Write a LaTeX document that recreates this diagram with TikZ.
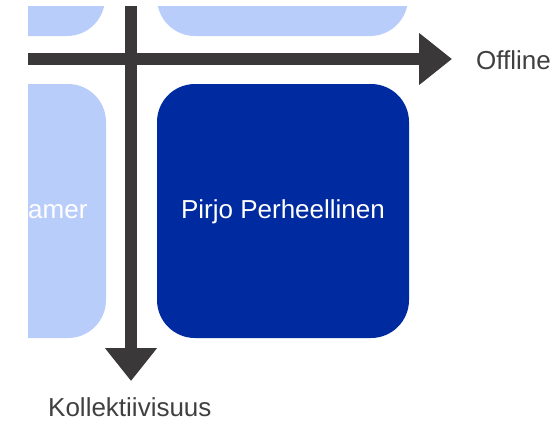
\documentclass[tikz,border=0pt]{standalone}
\usepackage{fontspec}
\setmainfont{Liberation Sans}
\usetikzlibrary{arrows.meta}
\definecolor{lightbox}{RGB}{185,205,251}
\definecolor{darkbox}{RGB}{0,42,159}
\definecolor{axisgray}{RGB}{58,56,56}
\definecolor{labelgray}{RGB}{64,64,64}
\begin{document}
\begin{tikzpicture}[x=1pt,y=1pt,
  segment/.style={rounded corners=38pt, inner sep=0pt, outer sep=0pt},
  axisline/.style={draw=axisgray, line width=12pt,
    -{Triangle[width=50pt,length=33pt]}},
  boxtext/.style={text=white, font=\fontsize{26}{31}\selectfont, inner sep=0pt},
  axistext/.style={text=labelgray, font=\fontsize{26}{31}\selectfont, inner sep=0pt}]
\useasboundingbox (0,0) rectangle (559,-421);

\begin{scope}
  \clip (28,-6) rectangle (559,-421);
  % quadrants
  \path[fill=lightbox, segment] (-200,200) rectangle (105,-36);
  \path[fill=lightbox, segment] (157,200) rectangle (408,-36);
  \path[fill=lightbox, segment] (-200,-84) rectangle (106,-338);
  \path[fill=darkbox, segment] (157,-84) rectangle (409,-338);
  \node[boxtext, anchor=base west] (gamer) at (28,-218) {amer};
  \node[boxtext, anchor=base] (pirjo) at (283,-218) {Pirjo Perheellinen};
  % axes
  \coordinate (hstart) at (0,-59);
  \coordinate (hend) at (452,-59);
  \coordinate (vstart) at (131,0);
  \coordinate (vend) at (131,-381);
  \draw[axisline] (hstart) -- (hend);
  \draw[axisline] (vstart) -- (vend);
\end{scope}

\node[axistext, anchor=base west] (offline) at (476,-69) {Offline};
\node[axistext, anchor=base west] (kollekt) at (48,-416) {Kollektiivisuus};
\end{tikzpicture}
\end{document}
